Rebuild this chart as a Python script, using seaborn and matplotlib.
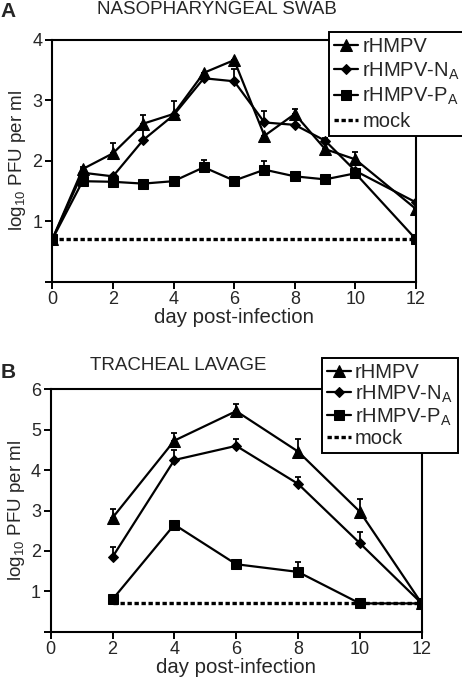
import matplotlib
matplotlib.use("Agg")
import matplotlib.pyplot as plt
import seaborn as sns
import numpy as np
import pandas as pd

sns.set_theme(style="white")
plt.rcParams['font.family'] = ['Liberation Sans', 'DejaVu Sans']
plt.rcParams['mathtext.fontset'] = 'custom'
plt.rcParams['mathtext.rm'] = 'Liberation Sans'

# ---- Panel A data (nasopharyngeal swab) ----
days_a = [0, 1, 2, 3, 4, 5, 6, 7, 8, 9, 10, 12]
a_wt = [0.70, 1.86, 2.12, 2.61, 2.77, 3.45, 3.66, 2.41, 2.77, 2.19, 2.02, 1.20]
a_wt_err = [0, 0.04, 0.17, 0.14, 0.0, 0.0, 0.0, 0.0, 0.08, 0.0, 0.12, 0.0]
a_na = [0.70, 1.80, 1.74, 2.34, 2.75, 3.36, 3.31, 2.63, 2.59, 2.33, 1.83, 1.31]
a_na_err = [0, 0.0, 0.0, 0.17, 0.24, 0.0, 0.20, 0.19, 0.0, 0.04, 0.0, 0.0]
a_pa = [0.70, 1.66, 1.65, 1.62, 1.66, 1.89, 1.67, 1.85, 1.74, 1.69, 1.79, 0.70]
a_pa_err = [0, 0.0, 0.0, 0.0, 0.0, 0.12, 0.0, 0.15, 0.0, 0.05, 0.0, 0.0]
mock_a_days = [0, 12]
mock_a = [0.70, 0.70]

# ---- Panel B data (tracheal lavage) ----
days_b = [2, 4, 6, 8, 10, 12]
b_wt = [2.82, 4.73, 5.46, 4.46, 2.97, 0.70]
b_wt_err = [0.21, 0.18, 0.17, 0.30, 0.31, 0.0]
b_na = [1.85, 4.25, 4.60, 3.66, 2.19, 0.70]
b_na_err = [0.25, 0.25, 0.17, 0.18, 0.29, 0.0]
b_pa = [0.80, 2.65, 1.67, 1.48, 0.70, 0.70]
b_pa_err = [0.0, 0.05, 0.05, 0.25, 0.0, 0.0]
mock_b_days = [2, 12]
mock_b = [0.70, 0.70]

labels = ["rHMPV", r"rHMPV-N$_\mathregular{A}$", r"rHMPV-P$_\mathregular{A}$", "mock"]
markers = ["^", "D", "s"]
msizes = [8.5, 5.5, 7.5]

fig = plt.figure(figsize=(4.62, 6.85), dpi=100)
ax_a = fig.add_axes([52.3/462, 1-281.7/685, (416-52.3)/462, (281.7-39.5)/685])
ax_b = fig.add_axes([50.7/462, 1-631.7/685, (421.7-50.7)/462, (631.7-389.3)/685])


def draw(ax, days, series, errs, mdays, mvals, ymax):
    for vals, err, mk, ms, lab in zip(series, errs, markers, msizes, labels[:3]):
        ax.errorbar(days, vals, yerr=[np.zeros(len(err)), err], fmt='none',
                    ecolor='black', elinewidth=1.3, capsize=2.2, capthick=1.3, zorder=2)
        sns.lineplot(x=days, y=vals, ax=ax, color='black', linewidth=1.6,
                     marker=mk, markersize=ms, markeredgecolor='black',
                     markerfacecolor='black', label=lab, zorder=3)
    sns.lineplot(x=mdays, y=mvals, ax=ax, color='black', linewidth=2.4,
                 dashes=False, label=labels[3], zorder=1)
    ax.lines[-1].set_linestyle((0, (1.3, 0.8)))
    ax.set_xlim(0, 12)
    ax.set_ylim(0, ymax)
    ax.set_xticks(range(0, 13, 2))
    ax.set_yticks(range(0, ymax + 1))
    ax.set_yticklabels([''] + [str(i) for i in range(1, ymax + 1)])
    ax.tick_params(axis='both', direction='out', length=5, width=1.4, color='black',
                   labelsize=13, pad=2, bottom=True, left=True)
    for s in ax.spines.values():
        s.set_color('black')
        s.set_linewidth(1.5)
    ax.set_xlabel("day post-infection", fontsize=14.7, labelpad=0)
    ax.set_ylabel(r"log$_\mathregular{10}$ PFU per ml", fontsize=13.5, labelpad=3)


draw(ax_a, days_a, [a_wt, a_na, a_pa], [a_wt_err, a_na_err, a_pa_err],
     mock_a_days, mock_a, 4)
draw(ax_b, days_b, [b_wt, b_na, b_pa], [b_wt_err, b_na_err, b_pa_err],
     mock_b_days, mock_b, 6)

for ax, anchor, lsp in [(ax_a, (1.135, 1.032), 0.22), (ax_b, (1.097, 1.13), 0.08)]:
    leg = ax.legend(loc='upper right', bbox_to_anchor=anchor, fontsize=14.5,
                    frameon=True, fancybox=False, edgecolor='black',
                    handlelength=1.2, handletextpad=0.2, labelspacing=lsp,
                    borderpad=0.25, borderaxespad=0)
    leg.get_frame().set_linewidth(1.4)
    leg.get_frame().set_alpha(1)
    leg.set_zorder(10)

fig.text(217/462, 1-14/685, "NASOPHARYNGEAL SWAB", ha='center', va='baseline', fontsize=13.5)
fig.text(178/462, 1-370/685, "TRACHEAL LAVAGE", ha='center', va='baseline', fontsize=13.5)
fig.text(0.002, 1-17/685, "A", ha='left', va='baseline', fontsize=15, fontweight='bold')
fig.text(0.002, 1-378/685, "B", ha='left', va='baseline', fontsize=15, fontweight='bold')

fig.savefig("out.png", dpi=100)
